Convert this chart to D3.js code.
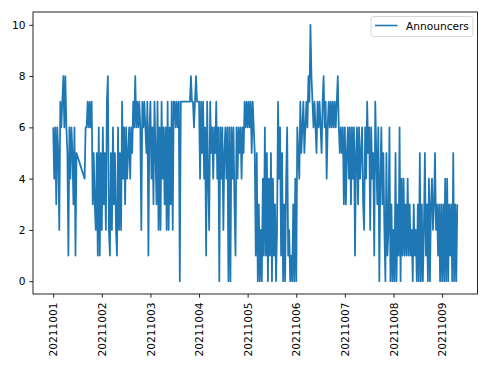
<!DOCTYPE html>
<html>
<head>
<meta charset="utf-8">
<script src="https://cdn.jsdelivr.net/npm/d3@7"></script>
<style>
  html, body { margin: 0; padding: 0; background: #fff; }
  svg { display: block; font-family: "DejaVu Sans", sans-serif; }
</style>
</head>
<body>
<div id="chart"></div>
<script>
"use strict";

// Announcer counts, one sample every 30 minutes (48 per day).
// null = missing sample (line just joins across it)
const oct01 = [6,4,6,3,6,5,2,7,6,7,8,6,8,6,5,1,6,4,6,5,3,6,1,5,
               null,null,null,null,null,null,null,4,6,6,7,6,7,6,7,3,5,3,2,5,1,6,1,5];
const oct02 = [2,6,3,5,2,7,8,2,1,5,2,6,3,5,2,1,6,2,5,2,7,4,6,3,
               6,4,5,6,4,6,5,7,6,8,6,7,6,7,6,2,7,6,7,6,5,7,1,6];
const oct03 = [7,4,6,3,7,5,3,7,2,6,2,7,4,6,3,6,2,7,2,6,3,7,2,7,
               7,6,7,6,7,0,7,7,7,7,7,7,7,7,7,7,8,7,7,6,7,8,7,7];
const oct04 = [7,4,7,5,7,4,6,1,7,4,2,7,5,6,4,6,5,7,4,6,0,6,4,6,
               2,5,6,4,6,0,6,0,6,4,6,3,1,6,4,6,5,6,4,6,5,7,6,7];
const oct05 = [6,7,6,7,5,7,6,5,1,5,0,3,0,2,0,4,1,6,1,5,0,4,1,5,
               0,4,1,3,0,2,7,4,6,1,5,0,3,0,4,6,1,2,0,1,0,3,0,4];
const oct06 = [0,6,5,4,7,5,6,7,5,6,7,6,8,7,10,8,7,6,7,6,5,7,6,7,
               6,5,7,8,6,7,4,6,7,6,7,6,7,6,7,6,7,8,6,5,6,5,6,3];
const oct07 = [6,3,5,6,4,6,3,6,4,6,1,5,6,3,6,4,5,6,3,2,6,4,7,5,
               6,2,6,4,5,1,7,5,3,6,0,4,6,3,5,2,0,5,1,2,6,0,3,0];
const oct08 = [2,0,5,0,3,1,6,0,4,1,4,1,3,1,4,1,3,1,2,0,3,1,2,0,
               3,0,5,0,3,0,2,5,1,3,0,4,0,3,4,2,3,5,2,3,1,3,0,3];
const oct09 = [0,3,0,4,0,4,0,3,1,3,0,5,0,3,0,3];

const dayLabels = ["20211001","20211002","20211003","20211004","20211005",
                   "20211006","20211007","20211008","20211009"];
const yTicks = [0, 2, 4, 6, 8, 10];
const seriesName = "Announcers";

const W = 490, H = 368;
const plot = { left: 33, right: 477.5, top: 12, bottom: 294 };
const px = 76.5 / 72; // matplotlib points -> pixels
const blue = "#1f77b4";

// flatten into (day, value) points
const perDay = 48;
const points = [];
[oct01, oct02, oct03, oct04, oct05, oct06, oct07, oct08, oct09].forEach((arr, d) => {
  arr.forEach((v, i) => {
    if (v !== null) points.push({ t: d + i / perDay, v: v });
  });
});

const tMin = d3.min(points, (p) => p.t);
const tMax = d3.max(points, (p) => p.t);
const tPad = (tMax - tMin) * 0.05;

const x = d3.scaleLinear()
  .domain([tMin - tPad, tMax + tPad])
  .range([plot.left, plot.right]);

const y = d3.scaleLinear()
  .domain([-0.5, 10.5])
  .range([plot.bottom, plot.top]);

const svg = d3.select("#chart")
  .append("svg")
  .attr("width", W)
  .attr("height", H);

svg.append("rect")
  .attr("width", W).attr("height", H)
  .attr("fill", "#fff");

// data line
const line = d3.line()
  .x((d) => x(d.t))
  .y((d) => y(d.v));

svg.append("path")
  .datum(points)
  .attr("d", line)
  .attr("fill", "none")
  .attr("stroke", blue)
  .attr("stroke-width", 1.75)
  .attr("stroke-linejoin", "round");

// axes
const fontSize = 10 * px;
const tickLen = 3.5 * px;

const yAxis = d3.axisLeft(y)
  .tickValues(yTicks)
  .tickSize(tickLen)
  .tickPadding(3.5 * px)
  .tickFormat(d3.format("d"));

const gy = svg.append("g")
  .attr("transform", `translate(${plot.left},0)`)
  .call(yAxis);
gy.select(".domain").remove();
gy.selectAll(".tick line").attr("stroke", "#000").attr("stroke-width", 0.8 * px);
gy.selectAll(".tick text")
  .attr("fill", "#000")
  .style("font-size", fontSize + "px")
  .style("font-family", "DejaVu Sans");

const xAxis = d3.axisBottom(x)
  .tickValues(d3.range(dayLabels.length))
  .tickSize(tickLen)
  .tickFormat((d) => dayLabels[d]);

const gx = svg.append("g")
  .attr("transform", `translate(0,${plot.bottom})`)
  .call(xAxis);
gx.select(".domain").remove();
gx.selectAll(".tick line").attr("stroke", "#000").attr("stroke-width", 0.8 * px);
gx.selectAll(".tick text")
  .attr("fill", "#000")
  .style("font-size", fontSize + "px")
  .style("font-family", "DejaVu Sans")
  .attr("text-anchor", "end")
  .attr("y", 0)
  .attr("dy", "0.35em")
  .attr("transform", `translate(0,${tickLen + 3.5 * px + 1}) rotate(-90)`);

// frame
svg.append("rect")
  .attr("x", plot.left)
  .attr("y", plot.top)
  .attr("width", plot.right - plot.left)
  .attr("height", plot.bottom - plot.top)
  .attr("fill", "none")
  .attr("stroke", "#000")
  .attr("stroke-width", 0.8 * px);

// legend
const lg = svg.append("g");
lg.append("rect")
  .attr("x", 371).attr("y", 16.5)
  .attr("width", 102).attr("height", 20)
  .attr("rx", 2.5)
  .attr("fill", "#fff")
  .attr("fill-opacity", 0.8)
  .attr("stroke", "#d0d0d0")
  .attr("stroke-width", 0.8 * px);
lg.append("line")
  .attr("x1", 375).attr("x2", 397.5)
  .attr("y1", 25.5).attr("y2", 25.5)
  .attr("stroke", blue)
  .attr("stroke-width", 1.5 * px);
lg.append("text")
  .attr("x", 406).attr("y", 29.5)
  .attr("fill", "#000")
  .style("font-size", fontSize + "px")
  .text(seriesName);
</script>
</body>
</html>
